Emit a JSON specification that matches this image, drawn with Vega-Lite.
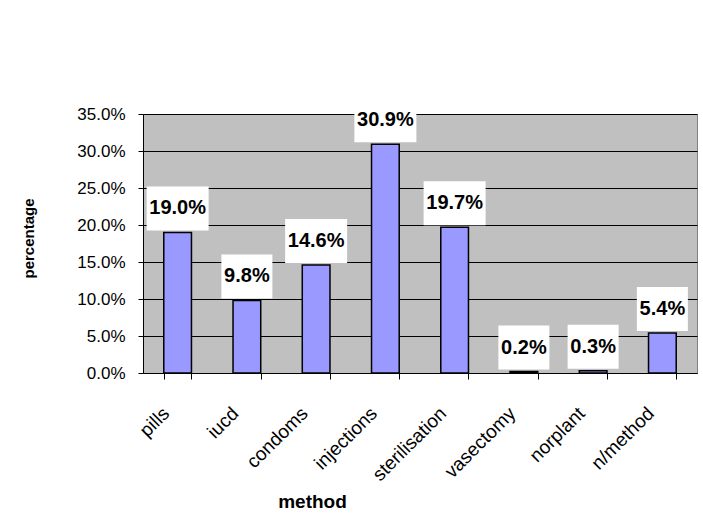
{
  "$schema": "https://vega.github.io/schema/vega-lite/v6.json",
  "width": 554,
  "height": 259,
  "autosize": {"type": "none"},
  "padding": {"left": 143, "top": 114, "right": 6, "bottom": 141},
  "background": "white",
  "config": {
    "view": {"fill": "#C0C0C0", "stroke": "#808080", "strokeWidth": 1},
    "font": "Liberation Sans"
  },
  "data": {
    "values": [
      {"method": "pills", "value": 0.190},
      {"method": "iucd", "value": 0.098},
      {"method": "condoms", "value": 0.146},
      {"method": "injections", "value": 0.309},
      {"method": "sterilisation", "value": 0.197},
      {"method": "vasectomy", "value": 0.002},
      {"method": "norplant", "value": 0.003},
      {"method": "n/method", "value": 0.054}
    ]
  },
  "encoding": {
    "x": {
      "field": "method",
      "type": "nominal",
      "sort": null,
      "scale": {"paddingInner": 0.6, "paddingOuter": 0.3},
      "axis": {
        "title": "method",
        "tickBand": "extent",
        "labelAngle": -45,
        "labelAlign": "right",
        "labelBaseline": "middle",
        "labelFont": "Liberation Sans",
        "labelFontSize": 19,
        "labelColor": "black",
        "labelPadding": 31,
        "labelOffset": -12,
        "labelOverlap": false,
        "tickColor": "black",
        "tickSize": 6,
        "domainColor": "black",
        "titleFont": "Liberation Sans",
        "titleFontSize": 19,
        "titleFontWeight": "bold",
        "titleColor": "black",
        "titleX": 169,
        "titleY": 134,
        "titleBaseline": "alphabetic",
        "titleAlign": "center",
        "grid": false
      }
    },
    "y": {
      "field": "value",
      "type": "quantitative",
      "scale": {"domain": [0, 0.35], "nice": false},
      "axis": {
        "title": "percentage",
        "values": [0, 0.05, 0.1, 0.15, 0.2, 0.25, 0.3, 0.35],
        "tickCount": 8,
        "format": ".1%",
        "labelFont": "Liberation Sans",
        "labelFontSize": 17,
        "labelColor": "black",
        "labelPadding": 13,
        "labelOverlap": false,
        "tickColor": "black",
        "tickSize": 5,
        "domainColor": "black",
        "grid": true,
        "gridColor": "black",
        "gridWidth": 1,
        "gridOpacity": 1,
        "titleFont": "Liberation Sans",
        "titleFontSize": 15,
        "titleFontWeight": "bold",
        "titleColor": "black",
        "titleX": -115,
        "titleY": 124,
        "titleAngle": -90,
        "titleBaseline": "middle",
        "titleAlign": "center"
      }
    }
  },
  "layer": [
    {
      "mark": {"type": "bar", "fill": "#9999FF", "stroke": "black", "strokeWidth": 1.5}
    },
    {
      "mark": {"type": "bar", "fill": "white", "yOffset": -2, "y2Offset": -46},
      "encoding": {
        "y2": {"field": "value"},
        "size": {"condition": {"test": "datum.value >= 0.1", "value": 62}, "value": 51}
      }
    },
    {
      "mark": {"type": "text", "font": "Liberation Sans", "fontWeight": "bold", "fontSize": 20, "baseline": "middle", "dy": -24, "color": "black"},
      "encoding": {
        "text": {"field": "value", "format": ".1%"}
      }
    }
  ]
}
